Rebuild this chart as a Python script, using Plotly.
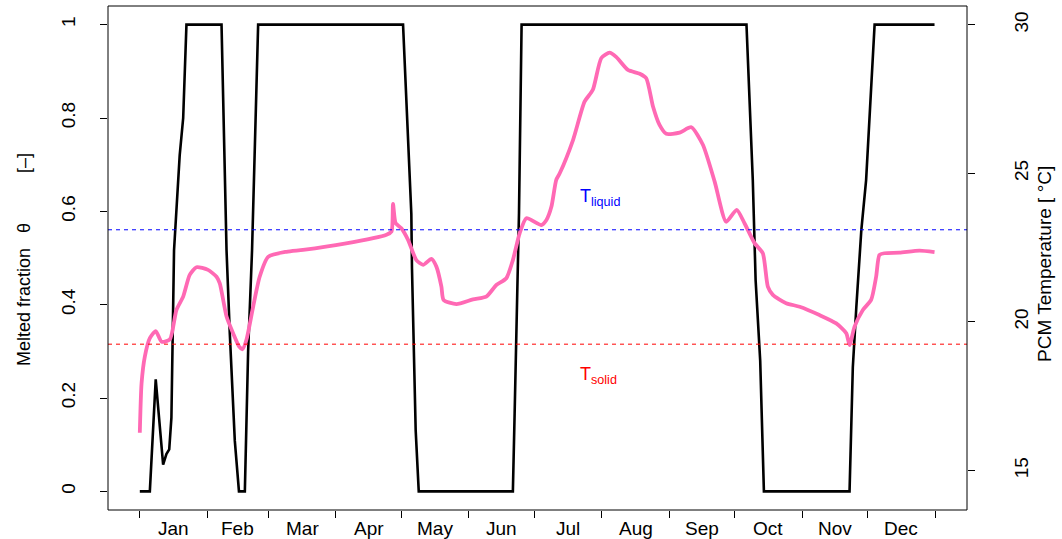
import plotly.graph_objects as go

# Day of year (0 = 1 Jan) and melted fraction of the PCM
day_f = [0, 4.6, 7.3, 10.7, 12.2, 13.5, 14.5, 15.7, 18.3, 19.9, 21.4,
         37.5, 39.8, 41.3, 43.6, 45.5, 48.2, 49.7, 51.5, 52.8, 54.3,
         120.8, 122.0, 123.5, 124.6, 124.9, 126.6, 128.0,
         171.2, 172.0, 173.1, 174.0, 175.2,
         278.4, 281.3, 282.6, 284.7, 286.4,
         325.7, 327.2, 328.8, 331.1, 333.3, 337.2, 364.7]
melt_frac = [0, 0, 0.24, 0.057, 0.08, 0.09, 0.158, 0.516, 0.72, 0.80, 1,
             1, 0.516, 0.338, 0.108, 0, 0, 0.30, 0.516, 0.77, 1,
             1, 0.867, 0.68, 0.595, 0.478, 0.13, 0,
             0, 0.166, 0.38, 0.595, 1,
             1, 0.667, 0.452, 0.28, 0,
             0, 0.266, 0.394, 0.559, 0.667, 1, 1]

# Day of year and PCM temperature [°C]
day_t = [0, 0.8, 2.3, 4.6, 7.3, 10.0, 13.8, 16.8, 19.9, 22.9, 26.0, 31.3,
         35.2, 36.7, 39.8, 42.8, 45.6, 47.1, 48.9, 52.0, 55.0, 58.9, 67.3,
         74.9, 94.0, 113.2, 115.5, 116.2, 117.4, 120.0, 123.1, 126.9, 130.0,
         133.8, 136.1, 138.4, 139.4, 145.3, 152.9, 159.0, 163.6, 168.2,
         171.2, 174.3, 177.4, 184.3, 186.6, 188.9, 191.1, 192.7, 198.8,
         204.1, 207.9, 211.8, 215.6, 218.7, 224.0, 229.4, 232.4, 235.5,
         238.5, 241.6, 247.7, 253.1, 258.4, 263.8, 269.1, 273.9, 277.5,
         282.1, 285.9, 288.2, 290.5, 296.6, 302.8, 311.9, 319.6, 324.2,
         325.7, 328.0, 331.8, 335.6, 337.9, 339.4, 341.7, 348.6, 357.8, 364.7]
temp_c = [16.27, 17.93, 18.83, 19.45, 19.69, 19.33, 19.41, 20.40, 20.85, 21.58,
          21.84, 21.75, 21.52, 21.30, 20.18, 19.62, 19.17, 19.08, 19.39, 20.51,
          21.52, 22.19, 22.36, 22.42, 22.63, 22.93, 23.04, 23.97, 23.32, 23.15,
          22.76, 22.08, 21.92, 22.12, 21.86, 21.19, 20.74, 20.60, 20.76, 20.85,
          21.24, 21.47, 22.08, 22.98, 23.49, 23.26, 23.43, 23.88, 24.78, 25.00,
          26.12, 27.41, 27.81, 28.88, 29.06, 28.91, 28.48, 28.35, 28.20, 27.25,
          26.63, 26.33, 26.37, 26.55, 25.96, 24.72, 23.37, 23.77, 23.32, 22.65,
          22.31, 21.19, 20.91, 20.63, 20.51, 20.23, 19.95, 19.62, 19.22, 19.84,
          20.40, 20.74, 21.52, 22.25, 22.31, 22.33, 22.40, 22.35]

# Phase-change thresholds [°C]
t_liquid = 23.1
t_solid = 19.25

months = ["Jan", "Feb", "Mar", "Apr", "May", "Jun",
          "Jul", "Aug", "Sep", "Oct", "Nov", "Dec"]
month_start = [0, 31, 59, 90, 120, 151, 181, 212, 243, 273, 304, 334, 365]
month_mid = [(a + b) / 2 for a, b in zip(month_start[:-1], month_start[1:])]

frac_ticks = [0, 0.2, 0.4, 0.6, 0.8, 1]
frac_labels = ["0", "0.2", "0.4", "0.6", "0.8", "1"]
temp_ticks = [15, 20, 25, 30]

FONT = "Liberation Sans, Arial, Helvetica, sans-serif"

fig = go.Figure()
fig.add_trace(go.Scatter(x=day_f, y=melt_frac, mode="lines",
                         line=dict(color="black", width=2.6), yaxis="y"))
fig.add_trace(go.Scatter(x=day_t, y=temp_c, mode="lines",
                         line=dict(color="#ff69b4", width=3.8,
                                   shape="spline", smoothing=0.6),
                         yaxis="y2"))

# Threshold lines across the full width
fig.add_shape(type="line", xref="paper", yref="y2", x0=0, x1=1,
              y0=t_liquid, y1=t_liquid,
              line=dict(color="blue", width=1, dash="4px,4px"))
fig.add_shape(type="line", xref="paper", yref="y2", x0=0, x1=1,
              y0=t_solid, y1=t_solid,
              line=dict(color="red", width=1, dash="4px,4px"))
# Frame
fig.add_shape(type="rect", xref="paper", yref="paper", x0=0, x1=1, y0=0, y1=1,
              line=dict(color="black", width=1))

annotations = []
for m, xm in zip(months, month_mid):
    annotations.append(dict(x=xm, y=0, xref="x", yref="paper", text=m,
                            showarrow=False, yanchor="middle", yshift=-18,
                            font=dict(size=19, color="black", family=FONT)))
annotations.append(dict(x=201, y=0.63, xref="x", yref="y", text="T<sub>liquid</sub>",
                        showarrow=False, xanchor="left", yanchor="middle",
                        font=dict(size=18, color="blue", family=FONT)))
annotations.append(dict(x=201, y=0.248, xref="x", yref="y", text="T<sub>solid</sub>",
                        showarrow=False, xanchor="left", yanchor="middle",
                        font=dict(size=18, color="red", family=FONT)))
annotations.append(dict(x=0, y=0.5, xref="paper", yref="paper",
                        text="Melted fraction\u00a0\u00a0\u00a0θ\u00a0\u00a0\u00a0\u00a0\u00a0\u00a0\u00a0\u00a0\u00a0\u00a0[–]",
                        textangle=-90, showarrow=False, xanchor="center", yanchor="middle",
                        xshift=-84, yshift=-2, font=dict(size=18, color="black", family=FONT)))
annotations.append(dict(x=1, y=0.5, xref="paper", yref="paper",
                        text="PCM Temperature [ °C]",
                        textangle=-90, showarrow=False, xanchor="center", yanchor="middle",
                        xshift=77, yshift=-6, font=dict(size=19, color="black", family=FONT)))

fig.update_layout(
    width=1062, height=539,
    margin=dict(l=108, r=95, t=6, b=29),
    paper_bgcolor="white", plot_bgcolor="white",
    showlegend=False,
    font=dict(family=FONT, size=19, color="black"),
    xaxis=dict(range=[-14.6, 379.6], tickvals=month_start, showticklabels=False,
               ticks="outside", ticklen=7,
               tickwidth=1, tickcolor="black", showgrid=False, zeroline=False,
               showline=False),
    yaxis=dict(range=[-0.04, 1.04], tickvals=frac_ticks, ticktext=frac_labels,
               ticks="outside", ticklen=7, tickwidth=1, tickcolor="black",
               tickangle=-90, ticklabelstandoff=17, showgrid=False, zeroline=False,
               showline=False, tickfont=dict(size=19)),
    yaxis2=dict(range=[13.67, 30.63], tickvals=temp_ticks, overlaying="y",
                side="right", ticks="outside", ticklen=7, tickwidth=1,
                tickcolor="black", tickangle=-90, ticklabelstandoff=30,
                showgrid=False, zeroline=False, showline=False,
                tickfont=dict(size=19)),
    annotations=annotations,
)

fig.write_html("out.html")
